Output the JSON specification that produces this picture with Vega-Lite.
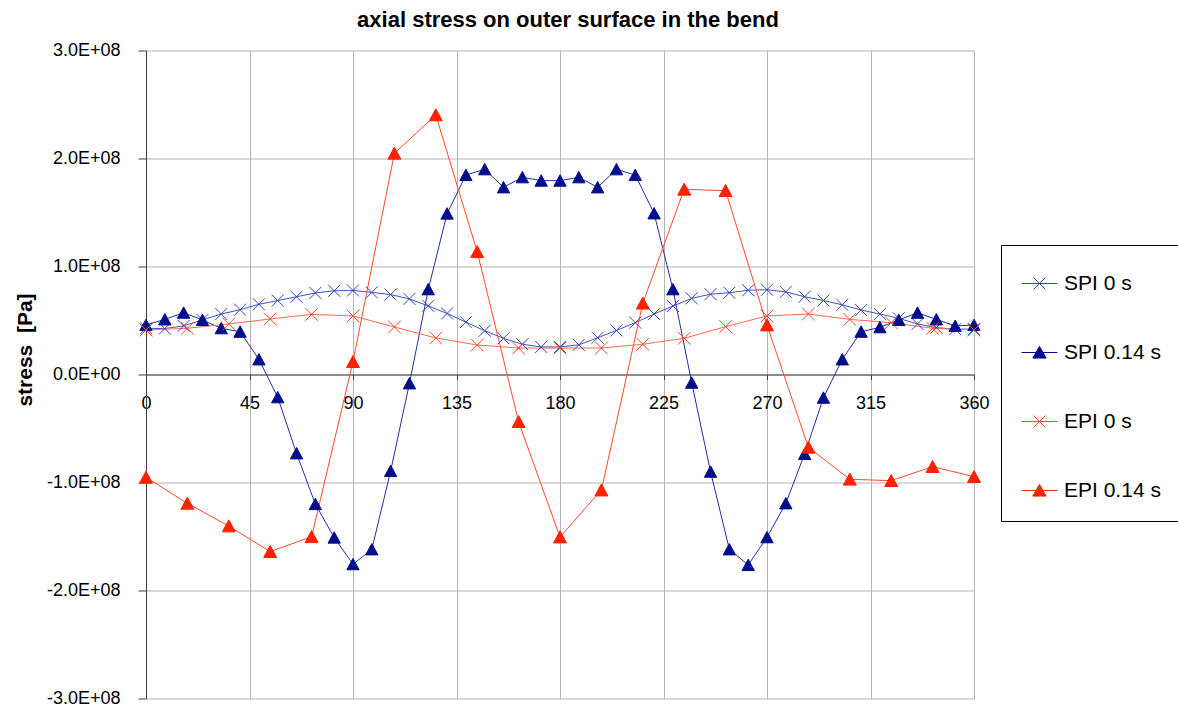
{
  "$schema": "https://vega.github.io/schema/vega-lite/v6.json",
  "width": 828,
  "height": 648,
  "autosize": {"type": "none"},
  "padding": {"left": 146, "top": 50.5, "right": 204, "bottom": 12.5},
  "background": "white",
  "config": {
    "view": {"stroke": null},
    "font": "Liberation Sans"
  },
  "title": {
    "text": "axial stress on outer surface in the bend",
    "fontSize": 22,
    "fontWeight": "bold",
    "font": "Liberation Sans",
    "color": "#000000",
    "anchor": "middle",
    "dx": 8,
    "dy": 21,
    "baseline": "alphabetic",
    "offset": 14
  },
  "data": {
    "values": [
      {"angle": 0, "stress": 4.28e7, "series": "SPI 0 s"},
      {"angle": 8.1818, "stress": 4.25e7, "series": "SPI 0 s"},
      {"angle": 16.3636, "stress": 4.5e7, "series": "SPI 0 s"},
      {"angle": 24.5455, "stress": 5.05e7, "series": "SPI 0 s"},
      {"angle": 32.7273, "stress": 5.6e7, "series": "SPI 0 s"},
      {"angle": 40.9091, "stress": 6.0e7, "series": "SPI 0 s"},
      {"angle": 49.0909, "stress": 6.5e7, "series": "SPI 0 s"},
      {"angle": 57.2727, "stress": 6.85e7, "series": "SPI 0 s"},
      {"angle": 65.4545, "stress": 7.2e7, "series": "SPI 0 s"},
      {"angle": 73.6364, "stress": 7.55e7, "series": "SPI 0 s"},
      {"angle": 81.8182, "stress": 7.75e7, "series": "SPI 0 s"},
      {"angle": 90, "stress": 7.78e7, "series": "SPI 0 s"},
      {"angle": 98.1818, "stress": 7.6e7, "series": "SPI 0 s"},
      {"angle": 106.3636, "stress": 7.4e7, "series": "SPI 0 s"},
      {"angle": 114.5455, "stress": 7.0e7, "series": "SPI 0 s"},
      {"angle": 122.7273, "stress": 6.35e7, "series": "SPI 0 s"},
      {"angle": 130.9091, "stress": 5.65e7, "series": "SPI 0 s"},
      {"angle": 139.0909, "stress": 4.85e7, "series": "SPI 0 s"},
      {"angle": 147.2727, "stress": 4.05e7, "series": "SPI 0 s"},
      {"angle": 155.4545, "stress": 3.35e7, "series": "SPI 0 s"},
      {"angle": 163.6364, "stress": 2.8e7, "series": "SPI 0 s"},
      {"angle": 171.8182, "stress": 2.55e7, "series": "SPI 0 s"},
      {"angle": 180, "stress": 2.55e7, "series": "SPI 0 s"},
      {"angle": 188.1818, "stress": 2.75e7, "series": "SPI 0 s"},
      {"angle": 196.3636, "stress": 3.4e7, "series": "SPI 0 s"},
      {"angle": 204.5455, "stress": 4.08e7, "series": "SPI 0 s"},
      {"angle": 212.7273, "stress": 4.8e7, "series": "SPI 0 s"},
      {"angle": 220.9091, "stress": 5.6e7, "series": "SPI 0 s"},
      {"angle": 229.0909, "stress": 6.34e7, "series": "SPI 0 s"},
      {"angle": 237.2727, "stress": 7.05e7, "series": "SPI 0 s"},
      {"angle": 245.4545, "stress": 7.44e7, "series": "SPI 0 s"},
      {"angle": 253.6364, "stress": 7.57e7, "series": "SPI 0 s"},
      {"angle": 261.8182, "stress": 7.8e7, "series": "SPI 0 s"},
      {"angle": 270, "stress": 7.85e7, "series": "SPI 0 s"},
      {"angle": 278.1818, "stress": 7.65e7, "series": "SPI 0 s"},
      {"angle": 286.3636, "stress": 7.2e7, "series": "SPI 0 s"},
      {"angle": 294.5455, "stress": 6.85e7, "series": "SPI 0 s"},
      {"angle": 302.7273, "stress": 6.45e7, "series": "SPI 0 s"},
      {"angle": 310.9091, "stress": 5.97e7, "series": "SPI 0 s"},
      {"angle": 319.0909, "stress": 5.6e7, "series": "SPI 0 s"},
      {"angle": 327.2727, "stress": 5.2e7, "series": "SPI 0 s"},
      {"angle": 335.4545, "stress": 4.68e7, "series": "SPI 0 s"},
      {"angle": 343.6364, "stress": 4.34e7, "series": "SPI 0 s"},
      {"angle": 351.8182, "stress": 4.2e7, "series": "SPI 0 s"},
      {"angle": 360, "stress": 4.2e7, "series": "SPI 0 s"},

      {"angle": 0, "stress": 4.58e7, "series": "SPI 0.14 s"},
      {"angle": 8.1818, "stress": 5.1e7, "series": "SPI 0.14 s"},
      {"angle": 16.3636, "stress": 5.72e7, "series": "SPI 0.14 s"},
      {"angle": 24.5455, "stress": 5.05e7, "series": "SPI 0.14 s"},
      {"angle": 32.7273, "stress": 4.28e7, "series": "SPI 0.14 s"},
      {"angle": 40.9091, "stress": 3.96e7, "series": "SPI 0.14 s"},
      {"angle": 49.0909, "stress": 1.4e7, "series": "SPI 0.14 s"},
      {"angle": 57.2727, "stress": -2.11e7, "series": "SPI 0.14 s"},
      {"angle": 65.4545, "stress": -7.3e7, "series": "SPI 0.14 s"},
      {"angle": 73.6364, "stress": -1.2e8, "series": "SPI 0.14 s"},
      {"angle": 81.8182, "stress": -1.51e8, "series": "SPI 0.14 s"},
      {"angle": 90, "stress": -1.757e8, "series": "SPI 0.14 s"},
      {"angle": 98.1818, "stress": -1.619e8, "series": "SPI 0.14 s"},
      {"angle": 106.3636, "stress": -8.94e7, "series": "SPI 0.14 s"},
      {"angle": 114.5455, "stress": -8.2e6, "series": "SPI 0.14 s"},
      {"angle": 122.7273, "stress": 7.89e7, "series": "SPI 0.14 s"},
      {"angle": 130.9091, "stress": 1.49e8, "series": "SPI 0.14 s"},
      {"angle": 139.0909, "stress": 1.847e8, "series": "SPI 0.14 s"},
      {"angle": 147.2727, "stress": 1.9e8, "series": "SPI 0.14 s"},
      {"angle": 155.4545, "stress": 1.733e8, "series": "SPI 0.14 s"},
      {"angle": 163.6364, "stress": 1.826e8, "series": "SPI 0.14 s"},
      {"angle": 171.8182, "stress": 1.795e8, "series": "SPI 0.14 s"},
      {"angle": 180, "stress": 1.795e8, "series": "SPI 0.14 s"},
      {"angle": 188.1818, "stress": 1.826e8, "series": "SPI 0.14 s"},
      {"angle": 196.3636, "stress": 1.733e8, "series": "SPI 0.14 s"},
      {"angle": 204.5455, "stress": 1.9e8, "series": "SPI 0.14 s"},
      {"angle": 212.7273, "stress": 1.847e8, "series": "SPI 0.14 s"},
      {"angle": 220.9091, "stress": 1.492e8, "series": "SPI 0.14 s"},
      {"angle": 229.0909, "stress": 7.89e7, "series": "SPI 0.14 s"},
      {"angle": 237.2727, "stress": -7.6e6, "series": "SPI 0.14 s"},
      {"angle": 245.4545, "stress": -9.0e7, "series": "SPI 0.14 s"},
      {"angle": 253.6364, "stress": -1.619e8, "series": "SPI 0.14 s"},
      {"angle": 261.8182, "stress": -1.764e8, "series": "SPI 0.14 s"},
      {"angle": 270, "stress": -1.507e8, "series": "SPI 0.14 s"},
      {"angle": 278.1818, "stress": -1.193e8, "series": "SPI 0.14 s"},
      {"angle": 286.3636, "stress": -7.36e7, "series": "SPI 0.14 s"},
      {"angle": 294.5455, "stress": -2.15e7, "series": "SPI 0.14 s"},
      {"angle": 302.7273, "stress": 1.4e7, "series": "SPI 0.14 s"},
      {"angle": 310.9091, "stress": 3.96e7, "series": "SPI 0.14 s"},
      {"angle": 319.0909, "stress": 4.37e7, "series": "SPI 0.14 s"},
      {"angle": 327.2727, "stress": 5.05e7, "series": "SPI 0.14 s"},
      {"angle": 335.4545, "stress": 5.72e7, "series": "SPI 0.14 s"},
      {"angle": 343.6364, "stress": 5.1e7, "series": "SPI 0.14 s"},
      {"angle": 351.8182, "stress": 4.5e7, "series": "SPI 0.14 s"},
      {"angle": 360, "stress": 4.58e7, "series": "SPI 0.14 s"},

      {"angle": 0, "stress": 4.12e7, "series": "EPI 0 s"},
      {"angle": 18, "stress": 4.28e7, "series": "EPI 0 s"},
      {"angle": 36, "stress": 4.68e7, "series": "EPI 0 s"},
      {"angle": 54, "stress": 5.14e7, "series": "EPI 0 s"},
      {"angle": 72, "stress": 5.57e7, "series": "EPI 0 s"},
      {"angle": 90, "stress": 5.42e7, "series": "EPI 0 s"},
      {"angle": 108, "stress": 4.4e7, "series": "EPI 0 s"},
      {"angle": 126, "stress": 3.38e7, "series": "EPI 0 s"},
      {"angle": 144, "stress": 2.73e7, "series": "EPI 0 s"},
      {"angle": 162, "stress": 2.45e7, "series": "EPI 0 s"},
      {"angle": 180, "stress": 2.45e7, "series": "EPI 0 s"},
      {"angle": 198, "stress": 2.45e7, "series": "EPI 0 s"},
      {"angle": 216, "stress": 2.8e7, "series": "EPI 0 s"},
      {"angle": 234, "stress": 3.35e7, "series": "EPI 0 s"},
      {"angle": 252, "stress": 4.43e7, "series": "EPI 0 s"},
      {"angle": 270, "stress": 5.42e7, "series": "EPI 0 s"},
      {"angle": 288, "stress": 5.6e7, "series": "EPI 0 s"},
      {"angle": 306, "stress": 5.1e7, "series": "EPI 0 s"},
      {"angle": 324, "stress": 4.8e7, "series": "EPI 0 s"},
      {"angle": 342, "stress": 4.28e7, "series": "EPI 0 s"},
      {"angle": 360, "stress": 4.12e7, "series": "EPI 0 s"},

      {"angle": 0, "stress": -9.52e7, "series": "EPI 0.14 s"},
      {"angle": 18, "stress": -1.193e8, "series": "EPI 0.14 s"},
      {"angle": 36, "stress": -1.403e8, "series": "EPI 0.14 s"},
      {"angle": 54, "stress": -1.64e8, "series": "EPI 0.14 s"},
      {"angle": 72, "stress": -1.502e8, "series": "EPI 0.14 s"},
      {"angle": 90, "stress": 1.19e7, "series": "EPI 0.14 s"},
      {"angle": 108, "stress": 2.048e8, "series": "EPI 0.14 s"},
      {"angle": 126, "stress": 2.403e8, "series": "EPI 0.14 s"},
      {"angle": 144, "stress": 1.137e8, "series": "EPI 0.14 s"},
      {"angle": 162, "stress": -4.37e7, "series": "EPI 0.14 s"},
      {"angle": 180, "stress": -1.505e8, "series": "EPI 0.14 s"},
      {"angle": 198, "stress": -1.07e8, "series": "EPI 0.14 s"},
      {"angle": 216, "stress": 6.6e7, "series": "EPI 0.14 s"},
      {"angle": 234, "stress": 1.715e8, "series": "EPI 0.14 s"},
      {"angle": 252, "stress": 1.702e8, "series": "EPI 0.14 s"},
      {"angle": 270, "stress": 4.58e7, "series": "EPI 0.14 s"},
      {"angle": 288, "stress": -6.74e7, "series": "EPI 0.14 s"},
      {"angle": 306, "stress": -9.7e7, "series": "EPI 0.14 s"},
      {"angle": 324, "stress": -9.83e7, "series": "EPI 0.14 s"},
      {"angle": 342, "stress": -8.53e7, "series": "EPI 0.14 s"},
      {"angle": 360, "stress": -9.46e7, "series": "EPI 0.14 s"}
    ]
  },
  "encoding": {
    "x": {
      "field": "angle",
      "type": "quantitative",
      "scale": {"domain": [0, 360], "nice": false, "zero": false},
      "axis": {
        "orient": "bottom",
        "offset": -324,
        "values": [0, 45, 90, 135, 180, 225, 270, 315, 360],
        "title": null,
        "grid": true,
        "gridColor": "#b4b4b4",
        "gridWidth": 1,
        "domainColor": "#404040",
        "domainWidth": 1,
        "tickColor": "#404040",
        "tickSize": 5,
        "labelPadding": 15,
        "labelFontSize": 18,
        "labelFont": "Liberation Sans",
        "labelColor": "#000000",
        "labelFlush": false,
        "labelOverlap": false,
        "labelBound": false
      }
    },
    "y": {
      "field": "stress",
      "type": "quantitative",
      "scale": {"domain": [-300000000, 300000000], "nice": false, "zero": false},
      "axis": {
        "values": [-300000000, -200000000, -100000000, 0, 100000000, 200000000, 300000000],
        "labelExpr": "datum.value == 0 ? '0.0E+00' : (datum.value < 0 ? '-' : '') + format(abs(datum.value) / 100000000, '.1f') + 'E+08'",
        "grid": true,
        "gridColor": "#b4b4b4",
        "gridWidth": 1,
        "domainColor": "#404040",
        "tickColor": "#404040",
        "tickSize": 8,
        "labelPadding": 18,
        "labelFontSize": 18,
        "labelFont": "Liberation Sans",
        "labelColor": "#000000",
        "labelFlush": false,
        "labelOverlap": false,
        "title": "stress\u00a0 [Pa]",
        "titleFont": "Liberation Sans",
        "titleFontSize": 21,
        "titleFontWeight": "bold",
        "titleColor": "#000000",
        "titleAngle": -90,
        "titleAlign": "center",
        "titleBaseline": "middle",
        "titleX": -121,
        "titleY": 299
      }
    }
  },
  "layer": [
    {
      "mark": {"type": "line", "strokeWidth": 1},
      "encoding": {
        "color": {
          "field": "series",
          "type": "nominal",
          "scale": {
            "domain": ["SPI 0 s", "SPI 0.14 s", "EPI 0 s", "EPI 0.14 s"],
            "range": ["#4152C2", "#1F2FA3", "#FF6A50", "#FF4A2A"]
          },
          "legend": null
        }
      }
    },
    {
      "mark": {"type": "point", "filled": true, "strokeWidth": 1, "opacity": 1},
      "encoding": {
        "shape": {
          "field": "series",
          "type": "nominal",
          "scale": {
            "domain": ["SPI 0 s", "SPI 0.14 s", "EPI 0 s", "EPI 0.14 s"],
            "range": ["M-1,-1L1,1M-1,1L1,-1", "M0,-0.95L1,0.9L-1,0.9Z", "M-1,-1L1,1M-1,1L1,-1", "M0,-0.95L1,0.9L-1,0.9Z"]
          },
          "legend": null
        },
        "size": {
          "field": "series",
          "type": "nominal",
          "scale": {
            "domain": ["SPI 0 s", "SPI 0.14 s", "EPI 0 s", "EPI 0.14 s"],
            "range": [144, 169, 144, 169]
          },
          "legend": null
        },
        "fill": {
          "field": "series",
          "type": "nominal",
          "scale": {
            "domain": ["SPI 0 s", "SPI 0.14 s", "EPI 0 s", "EPI 0.14 s"],
            "range": ["transparent", "#000E8C", "transparent", "#FF2200"]
          },
          "legend": null
        },
        "stroke": {
          "field": "series",
          "type": "nominal",
          "scale": {
            "domain": ["SPI 0 s", "SPI 0.14 s", "EPI 0 s", "EPI 0.14 s"],
            "range": ["#3344BB", "#000E8C", "#FF4422", "#FF2200"]
          },
          "legend": null
        }
      }
    },
    {
      "mark": {"type": "point", "filled": true, "strokeWidth": 1, "opacity": 0},
      "encoding": {
        "shape": {
          "field": "series",
          "type": "nominal",
          "scale": {
            "domain": ["SPI 0 s", "SPI 0.14 s", "EPI 0 s", "EPI 0.14 s"],
            "range": [
              "M-1,0L1,0M-0.33,-0.33L0.33,0.33M-0.33,0.33L0.33,-0.33",
              "M-1,0L1,0M0,-0.34L0.37,0.31L-0.37,0.31Z",
              "M-1,0L1,0M-0.33,-0.33L0.33,0.33M-0.33,0.33L0.33,-0.33",
              "M-1,0L1,0M0,-0.34L0.37,0.31L-0.37,0.31Z"
            ]
          },
          "legend": {
            "title": null,
            "orient": "none",
            "legendX": 855,
            "legendY": 194.5,
            "direction": "vertical",
            "strokeColor": "#000000",
            "fillColor": "#ffffff",
            "padding": 20,
            "rowPadding": 40,
            "symbolSize": 1296,
            "symbolStrokeWidth": 1,
            "symbolOpacity": 1,
            "labelOffset": 6,
            "labelFontSize": 21,
            "labelFont": "Liberation Sans",
            "labelColor": "#000000",
            "labelLimit": 300
          }
        },
        "fill": {
          "field": "series",
          "type": "nominal",
          "scale": {
            "domain": ["SPI 0 s", "SPI 0.14 s", "EPI 0 s", "EPI 0.14 s"],
            "range": ["transparent", "#000E8C", "transparent", "#FF2200"]
          }
        },
        "stroke": {
          "field": "series",
          "type": "nominal",
          "scale": {
            "domain": ["SPI 0 s", "SPI 0.14 s", "EPI 0 s", "EPI 0.14 s"],
            "range": ["#3344BB", "#000E8C", "#FF4422", "#FF2200"]
          }
        }
      }
    }
  ],
  "resolve": {
    "scale": {"shape": "independent", "fill": "independent", "stroke": "independent", "size": "independent"},
    "legend": {"shape": "independent", "fill": "independent", "stroke": "independent", "size": "independent"}
  }
}
